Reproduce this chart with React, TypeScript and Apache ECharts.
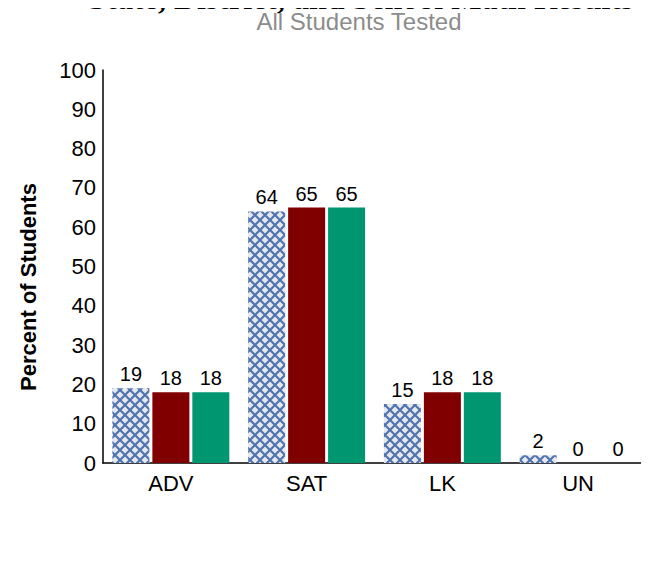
import React, { useEffect, useRef } from "react";
import * as echarts from "echarts";

const categories = ["ADV", "SAT", "LK", "UN"];
const stateValues = [19, 64, 15, 2];
const districtValues = [18, 65, 18, 0];
const schoolValues = [18, 65, 18, 0];
const yTicks = [0, 10, 20, 30, 40, 50, 60, 70, 80, 90, 100];

function makePattern(): HTMLCanvasElement {
  const c = document.createElement("canvas");
  const s = 10;
  c.width = s;
  c.height = s;
  const ctx = c.getContext("2d")!;
  ctx.fillStyle = "#e6e8ee";
  ctx.fillRect(0, 0, s, s);
  ctx.strokeStyle = "#4f74b0";
  ctx.lineWidth = 2.2;
  ctx.beginPath();
  ctx.moveTo(-1, -1);
  ctx.lineTo(s + 1, s + 1);
  ctx.moveTo(s + 1, -1);
  ctx.lineTo(-1, s + 1);
  ctx.stroke();
  return c;
}

export default function App() {
  const ref = useRef<HTMLDivElement>(null);
  useEffect(() => {
    if (!ref.current) return;
    const chart = echarts.init(ref.current, undefined, { renderer: "svg" });
    const font = "Liberation Sans, Arial, sans-serif";
    const label = {
      show: true,
      position: "top" as const,
      color: "#000",
      fontSize: 20,
      fontFamily: font,
      distance: 4,
    };
    chart.setOption({
      animation: false,
      backgroundColor: "#fff",
      grid: { left: 103, right: 3, top: 70, bottom: 118, containLabel: false },
      xAxis: {
        type: "category",
        data: categories,
        axisLine: { show: true, lineStyle: { color: "#000", width: 1.5 } },
        axisTick: { show: false },
        axisLabel: { color: "#000", fontSize: 22, fontFamily: font, margin: 9 },
      },
      yAxis: {
        type: "value",
        min: yTicks[0],
        max: yTicks[yTicks.length - 1],
        interval: 10,
        axisLine: { show: true, lineStyle: { color: "#000", width: 1.5 } },
        axisTick: { show: false },
        splitLine: { show: false },
        axisLabel: { color: "#000", fontSize: 22, fontFamily: font, margin: 7 },
      },
      graphic: [
        {
          type: "text",
          x: 361,
          y: -2,
          style: {
            text: "State, District, and School Math Results",
            textAlign: "center",
            textVerticalAlign: "middle",
            font: "bold 32px 'Liberation Serif', 'Times New Roman', serif",
            fill: "#000",
          },
        },
        {
          type: "text",
          x: 359,
          y: 21,
          style: {
            text: "All Students Tested",
            textAlign: "center",
            textVerticalAlign: "middle",
            font: "24px 'Liberation Sans', Arial, sans-serif",
            fill: "#8c8c8c",
          },
        },
        {
          type: "text",
          x: 28,
          y: 287,
          rotation: Math.PI / 2,
          style: {
            text: "Percent of Students",
            textAlign: "center",
            textVerticalAlign: "middle",
            font: "bold 22px 'Liberation Sans', Arial, sans-serif",
            fill: "#000",
          },
        },
      ],
      series: [
        {
          name: "State",
          type: "bar",
          data: stateValues,
          barWidth: 37,
          barGap: "8%",
          itemStyle: { color: { image: makePattern(), repeat: "repeat" } },
          label,
        },
        {
          name: "District",
          type: "bar",
          data: districtValues,
          barWidth: 37,
          barGap: "8%",
          itemStyle: { color: "#800000" },
          label,
        },
        {
          name: "School",
          type: "bar",
          data: schoolValues,
          barWidth: 37,
          barGap: "8%",
          itemStyle: { color: "#009670" },
          label,
        },
      ],
    });
    return () => chart.dispose();
  }, []);
  return <div ref={ref} style={{ width: 649, height: 581, margin: -8 }} />;
}
